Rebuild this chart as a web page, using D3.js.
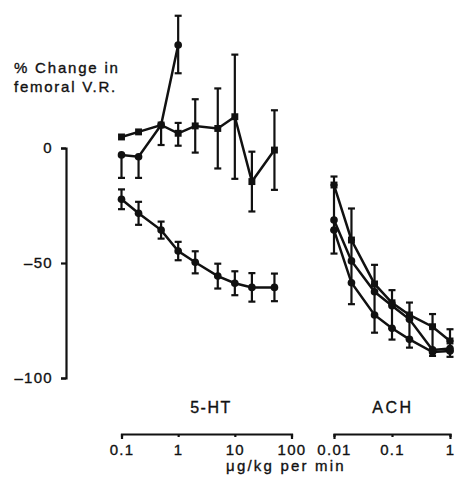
<!DOCTYPE html>
<html>
<head>
<meta charset="utf-8">
<script src="https://cdn.jsdelivr.net/npm/d3@7"></script>
<style>
body { margin: 0; background: #fff; }
text { font-family: "Liberation Sans", Arial, Helvetica, sans-serif; fill: #111; stroke: #111; stroke-width: 0.35px; }
</style>
</head>
<body>
<svg width="455" height="481"></svg>
<script>
// doses, ug/kg per min
var dose5ht = [0.1, 0.2, 0.5, 1, 2, 5, 10, 20, 50];
var doseAch = [0.01, 0.02, 0.05, 0.1, 0.2, 0.5, 1];

// 5-HT, % change in femoral V.R. (up / down = error bar lengths)
var htA = [4.8, 7, 10, 6.4, 9.6, 8.5, 13.6, -14.6, -0.9];
var htAUp = [0, 0, 0, 4.5, 11.6, 17.4, 27, 13, 17.3];
var htADn = [0, 0, 8.7, 5.4, 11.6, 17.4, 27, 13, 17.3];
var htB = [-3, -3.8, 10, 44.8];
var htBUp = [0, 0, 0, 12.7];
var htBDn = [10, 9.2, 0, 12.3];
var htC = [-22.3, -28.4, -35.7, -44.8, -49.7, -55.7, -58.8, -60.6, -60.6];
var htCErr = [4.3, 5, 3.7, 4, 4.8, 5.4, 5.2, 6.2, 6];

// ACH
var achA = [-16.1, -40, -59.1, -67.3, -72.6, -77.7, -83.9];
var achAUp = [3.7, 13.7, 8.3, 5.5, 5.4, 5.5, 5.1];
var achB = [-31.3, -49.1, -62.5, -68.6, -74.5, -87.8, -87.2];
var achBUp = [15.2, 9.1, 3.4, 1.3, 1.9, 10.1, 3.3];
var achBDn = [4.4, 9.5, 10.1, 9.8, 8.7, 0.9, 1.1];
var achC = [-35.7, -58.6, -72.6, -78.4, -83.2, -88.7, -88.3];
var achCDn = [10.2, 9.3, 7.7, 4.9, 3.6, 1.7, 2.5];

var yTicks = [0, -50, -100];
var htTicks = [0.1, 1, 10, 100];
var achTicks = [0.01, 0.1, 1];

var ink = '#111';
var font = '"Liberation Sans", Arial, Helvetica, sans-serif';
var svg = d3.select('svg');

var y = d3.scaleLinear().domain([-100, 0]).range([378, 148]);
var x5 = d3.scaleLog().domain([0.1, 100]).range([121.5, 291.5]);
var xa = d3.scaleLog().domain([0.01, 1]).range([334, 450]);

function styleAxis(g) {
    g.attr('font-family', font).attr('font-size', 15);
    g.selectAll('path, line').attr('stroke', ink).attr('stroke-width', 2.2);
    g.selectAll('text').attr('fill', ink).style('letter-spacing', '1.3px');
}

var ya = svg.append('g').attr('transform', 'translate(66,0)')
    .call(d3.axisLeft(y).tickValues(yTicks).tickSize(5).tickSizeOuter(5).tickPadding(8)
        .tickFormat(function (d) { return d < 0 ? '\u2013' + Math.abs(d) : d; }));
styleAxis(ya);

var xg1 = svg.append('g').attr('transform', 'translate(0,434)')
    .call(d3.axisBottom(x5).tickValues(htTicks).tickSize(3).tickSizeOuter(5).tickPadding(7)
        .tickFormat(function (d) { return String(d); }));
styleAxis(xg1);
var xg2 = svg.append('g').attr('transform', 'translate(0,434)')
    .call(d3.axisBottom(xa).tickValues(achTicks).tickSize(3).tickSizeOuter(5).tickPadding(7)
        .tickFormat(function (d) { return String(d); }));
styleAxis(xg2);

function drawSeries(xs, doses, vals, up, dn, shape) {
    var pts = vals.map(function (v, i) { return { d: doses[i], v: v, up: up[i], dn: dn[i] }; });
    var g = svg.append('g');
    pts.forEach(function (p) {
        var x = xs(p.d);
        if (p.up <= 0 && p.dn <= 0) return;
        g.append('line').attr('x1', x).attr('x2', x)
            .attr('y1', y(p.v + p.up)).attr('y2', y(p.v - p.dn))
            .attr('stroke', ink).attr('stroke-width', 2.2);
        if (p.up > 0) g.append('line').attr('x1', x - 3.5).attr('x2', x + 3.5)
            .attr('y1', y(p.v + p.up)).attr('y2', y(p.v + p.up)).attr('stroke', ink).attr('stroke-width', 2.2);
        if (p.dn > 0) g.append('line').attr('x1', x - 3.5).attr('x2', x + 3.5)
            .attr('y1', y(p.v - p.dn)).attr('y2', y(p.v - p.dn)).attr('stroke', ink).attr('stroke-width', 2.2);
    });
    g.append('path').datum(pts)
        .attr('d', d3.line().x(function (p) { return xs(p.d); }).y(function (p) { return y(p.v); }))
        .attr('fill', 'none').attr('stroke', ink).attr('stroke-width', 2.5);
    var sym = d3.symbol().type(shape === 'sq' ? d3.symbolSquare : d3.symbolCircle).size(shape === 'sq' ? 48 : 46);
    g.selectAll('path.m').data(pts).enter().append('path').attr('class', 'm')
        .attr('d', sym)
        .attr('transform', function (p) { return 'translate(' + xs(p.d) + ',' + y(p.v) + ')'; })
        .attr('fill', ink);
}

var zero7 = doseAch.map(function () { return 0; });

drawSeries(x5, dose5ht, htC, htCErr, htCErr, 'ci');
drawSeries(x5, dose5ht, htB, htBUp, htBDn, 'ci');
drawSeries(x5, dose5ht, htA, htAUp, htADn, 'sq');
drawSeries(xa, doseAch, achC, zero7, achCDn, 'ci');
drawSeries(xa, doseAch, achB, achBUp, achBDn, 'ci');
drawSeries(xa, doseAch, achA, achAUp, zero7, 'sq');

// titles
svg.append('text').attr('x', 14).attr('y', 73).attr('font-size', 15)
    .style('letter-spacing', '1.8px').text('% Change in');
svg.append('text').attr('x', 14).attr('y', 92).attr('font-size', 15)
    .style('letter-spacing', '1.75px').text('femoral V.R.');
svg.append('text').attr('x', 211).attr('y', 413).attr('font-size', 16).attr('text-anchor', 'middle')
    .style('letter-spacing', '1.5px').text('5-HT');
svg.append('text').attr('x', 393).attr('y', 413).attr('font-size', 16).attr('text-anchor', 'middle')
    .style('letter-spacing', '2.5px').text('ACH');
svg.append('text').attr('x', 286).attr('y', 471).attr('font-size', 15).attr('text-anchor', 'middle')
    .style('letter-spacing', '2.2px').text('\u03bcg/kg per min');
</script>
</body>
</html>
